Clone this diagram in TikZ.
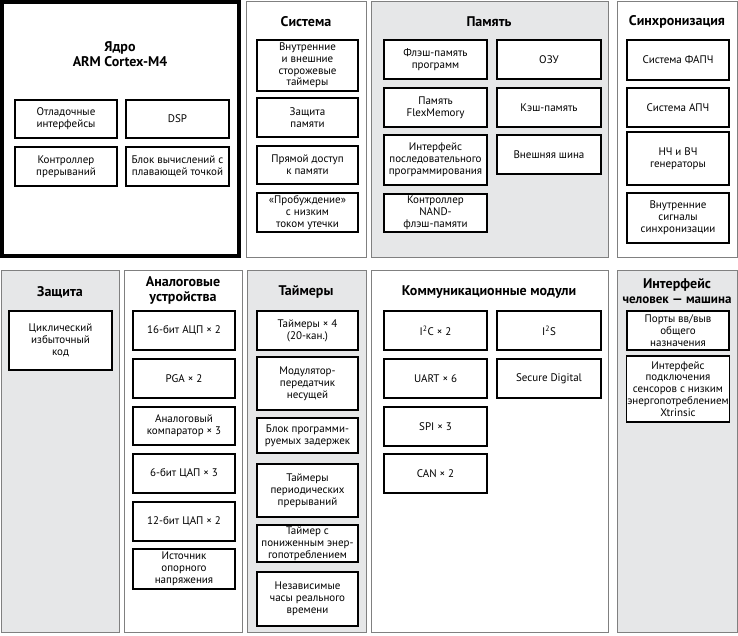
\documentclass[tikz,border=0pt]{standalone}
\usepackage{fontspec}
\setmainfont{PT Sans}
\usetikzlibrary{positioning}
\definecolor{panelgray}{HTML}{E6E7E8}
\definecolor{edgegray}{HTML}{808080}

\begin{document}
\begin{tikzpicture}[x=1pt, y=-1pt,
    panel/.style={draw=edgegray, line width=0.9pt},
    ttl/.style={font=\bfseries\fontsize{14}{15}\selectfont, align=center, inner sep=0pt},
    blk/.style={draw=black, line width=1.2pt, fill=white, align=center, inner sep=0.5pt,
                font=\fontsize{11}{11.8}\selectfont, minimum width=102pt, minimum height=39pt}]
    \useasboundingbox (0,0) rectangle (738,636);

    % Ядро
    \draw[line width=4pt] (2,2) rectangle (239,256);
    \node[ttl] (core) at (120,54) {Ядро\\ARM Cortex-M4};
    \node[blk, minimum height=38] (dbg) at (66,119) {Отладочные\\интерфейсы};
    \node[blk, minimum width=103, minimum height=38] (dsp) at (177.5,119) {DSP};
    \node[blk] (irq) at (66,166.5) {Контроллер\\прерываний};
    \node[blk, minimum width=103] (fpu) at (177.5,166.5) {Блок вычислений с\\плавающей точкой};

    % Система
    \draw[panel, fill=white] (246,1) rectangle (366,257);
    \node[ttl] (sys) at (306,22) {Система};
    \node[blk, minimum width=101, minimum height=51] (wdog) at (307.5,65.5) {Внутренние\\и внешние\\сторожевые\\таймеры};
    \node[blk, minimum width=101] (mpu) at (307.5,117.5) {Защита\\памяти};
    \node[blk, minimum width=101, minimum height=38] (dma) at (307.5,165) {Прямой доступ\\к памяти};
    \node[blk, minimum width=101] (wake) at (307.5,212.5) {«Пробуждение»\\с низким\\током утечки};

    % Память
    \draw[panel, fill=panelgray] (371,1) rectangle (608,257);
    \node[ttl] (mem) at (489,22) {Память};
    \node[blk, minimum width=103] (flash) at (435.5,59.5) {Флэш-память\\программ};
    \node[blk, minimum width=103] (flexmem) at (435.5,107.5) {Память\\FlexMemory};
    \node[blk, minimum width=103, minimum height=50] (ezport) at (435.5,160) {Интерфейс\\последовательного\\программирования};
    \node[blk, minimum width=103, minimum height=38] (nand) at (435.5,213) {Контроллер\\NAND-\\флэш-памяти};
    \node[blk, minimum width=104] (ram) at (549,59.5) {ОЗУ};
    \node[blk, minimum width=104] (cache) at (549,107.5) {Кэш-память};
    \node[blk, minimum width=104] (extbus) at (549,154.5) {Внешняя шина};

    % Синхронизация
    \draw[panel, fill=white] (617,1) rectangle (737,257);
    \node[ttl] (clk) at (677,22) {Синхронизация};
    \node[blk, minimum height=40] (pll) at (678,60) {Система ФАПЧ};
    \node[blk] (fll) at (678,107.5) {Система АПЧ};
    \node[blk, minimum height=53] (osc) at (678,158.5) {НЧ и ВЧ\\генераторы};
    \node[blk, minimum height=50] (irc) at (678,218) {Внутренние\\сигналы\\синхронизации};

    % Защита
    \draw[panel, fill=panelgray] (1,270) rectangle (119,632);
    \node[ttl] (sec) at (60,292) {Защита};
    \node[blk, minimum width=103, minimum height=59] (crc) at (60.5,340.5) {Циклический\\избыточный\\код};

    % Аналоговые устройства
    \draw[panel, fill=white] (124,270) rectangle (242,632);
    \node[ttl] (ana) at (183,290) {Аналоговые\\устройства};
    \node[blk] (adc) at (184,330.5) {16-бит АЦП × 2};
    \node[blk] (pga) at (184,378.5) {PGA × 2};
    \node[blk, minimum height=38] (cmp) at (184,426) {Аналоговый\\компаратор × 3};
    \node[blk] (dac6) at (184,473.5) {6-бит ЦАП × 3};
    \node[blk] (dac12) at (184,521.5) {12-бит ЦАП × 2};
    \node[blk, minimum height=40] (vref) at (184,569) {Источник\\опорного\\напряжения};

    % Таймеры
    \draw[panel, fill=panelgray] (247,270) rectangle (366,632);
    \node[ttl] (tmr) at (306,292) {Таймеры};
    \node[blk, minimum width=101] (ftm) at (307.5,330.5) {Таймеры × 4\\(20-кан.)};
    \node[blk, minimum width=101, minimum height=53] (cmt) at (307.5,383.5) {Модулятор-\\передатчик\\несущей};
    \node[blk, minimum width=101, minimum height=35] (pdb) at (307.5,435.5) {Блок программи-\\руемых задержек};
    \node[blk, minimum width=101, minimum height=53] (pit) at (307.5,490.5) {Таймеры\\периодических\\прерываний};
    \node[blk, minimum width=101, minimum height=37] (lpt) at (307.5,543.5) {Таймер с\\пониженным энер-\\гопотреблением};
    \node[blk, minimum width=101, minimum height=54] (rtc) at (307.5,599) {Независимые\\часы реального\\времени};

    % Коммуникационные модули
    \draw[panel, fill=white] (371,270) rectangle (608,632);
    \node[ttl] (com) at (489,292) {Коммуникационные модули};
    \node[blk, minimum width=103] (i2c) at (435.5,330.5) {I\textsuperscript{2}C × 2};
    \node[blk, minimum width=103] (uart) at (435.5,378.5) {UART × 6};
    \node[blk, minimum width=103] (spi) at (435.5,426.5) {SPI × 3};
    \node[blk, minimum width=103] (can) at (435.5,473.5) {CAN × 2};
    \node[blk, minimum width=104] (i2s) at (549,330.5) {I\textsuperscript{2}S};
    \node[blk, minimum width=104] (sdhc) at (549,378.5) {Secure Digital};

    % Интерфейс человек — машина
    \draw[panel, fill=panelgray] (617,270) rectangle (737,632);
    \node[ttl] (hmi) at (677,291) {Интерфейс\\{\fontsize{13}{15}\selectfont человек — машина}};
    \node[blk] (gpio) at (678,330.5) {Порты вв/выв\\общего\\назначения};
    \node[blk, minimum height=66] (tsi) at (678,389) {Интерфейс\\подключения\\сенсоров с низким\\энергопотреблением\\Xtrinsic};
\end{tikzpicture}
\end{document}
